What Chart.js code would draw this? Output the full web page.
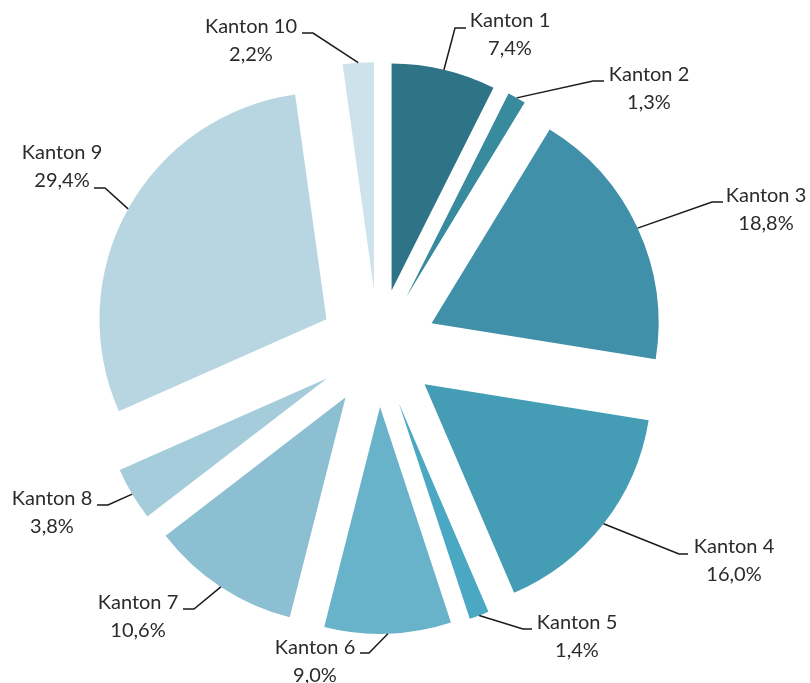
<!DOCTYPE html>
<html>
<head>
<meta charset="utf-8">
<script src="https://cdn.jsdelivr.net/npm/chart.js@4"></script>
<style>
  html, body { margin: 0; padding: 0; background: #fff; }
  #wrap { width: 810px; height: 683px; position: relative; }
</style>
</head>
<body>
<div id="wrap"><canvas id="kantonChart"></canvas></div>
<script>
const kantone = ['Kanton 1', 'Kanton 2', 'Kanton 3', 'Kanton 4', 'Kanton 5',
                 'Kanton 6', 'Kanton 7', 'Kanton 8', 'Kanton 9', 'Kanton 10'];
const anteile = [7.4, 1.3, 18.8, 16.0, 1.4, 9.0, 10.6, 3.8, 29.4, 2.2];

const farben = ['#2e7386', '#388a9d', '#3f90a8', '#449db5', '#4aa8c3',
                '#68b2ca', '#8bbfd1', '#a5ccdb', '#b8d6e1', '#cde2ea'];

// label boxes: text centre x, first line y, leader start (next to text), elbow x
const labelPos = [
    {x: 510, y: 21,  sx: 466, sy: 28,  ex: 455},
    {x: 649, y: 75,  sx: 604, sy: 81,  ex: 593},
    {x: 766, y: 196, sx: 723, sy: 202, ex: 712},
    {x: 734, y: 547, sx: 688, sy: 554, ex: 679},
    {x: 577, y: 623, sx: 532, sy: 629, ex: 523},
    {x: 315, y: 648, sx: 360, sy: 653, ex: 369},
    {x: 138, y: 603, sx: 183, sy: 609, ex: 194},
    {x: 52,  y: 499, sx: 97,  sy: 505, ex: 108},
    {x: 62,  y: 153, sx: 94,  sy: 188, ex: 105},
    {x: 251, y: 27,  sx: 302, sy: 33,  ex: 313},
];

const EXPLODE = 59;

// push every slice outwards along its middle angle
const explodePlugin = {
    id: 'explode',
    afterUpdate(chart) {
        chart.getDatasetMeta(0).data.forEach(arc => {
            const mid = (arc.startAngle + arc.endAngle) / 2;
            arc.x += EXPLODE * Math.cos(mid);
            arc.y += EXPLODE * Math.sin(mid);
        });
    }
};

const labelPlugin = {
    id: 'sliceLabels',
    afterDatasetsDraw(chart) {
        const ctx = chart.ctx;
        const arcs = chart.getDatasetMeta(0).data;
        ctx.save();
        arcs.forEach((arc, i) => {
            const p = labelPos[i];
            const mid = (arc.startAngle + arc.endAngle) / 2;
            const tx = arc.x + arc.outerRadius * Math.cos(mid);
            const ty = arc.y + arc.outerRadius * Math.sin(mid);

            ctx.strokeStyle = '#1a1a1a';
            ctx.lineWidth = 1.5;
            ctx.beginPath();
            ctx.moveTo(p.sx, p.sy);
            ctx.lineTo(p.ex, p.sy);
            ctx.lineTo(tx, ty);
            ctx.stroke();

            ctx.fillStyle = '#2b2b2b';
            ctx.font = '20px Lato';
            ctx.textAlign = 'center';
            ctx.textBaseline = 'middle';
            ctx.fillText(kantone[i], p.x, p.y);
            ctx.fillText(anteile[i].toFixed(1).replace('.', ',') + '%', p.x, p.y + 28);
        });
        ctx.restore();
    }
};

new Chart(document.getElementById('kantonChart'), {
    type: 'pie',
    data: {
        labels: kantone,
        datasets: [{
            data: anteile,
            backgroundColor: farben,
            borderWidth: 0,
        }],
    },
    options: {
        responsive: true,
        maintainAspectRatio: false,
        animation: false,
        events: [],
        radius: 227,
        layout: {
            padding: {left: 0, right: 54, top: 13, bottom: 0},
        },
        plugins: {
            legend: {display: false},
            tooltip: {enabled: false},
        },
    },
    plugins: [explodePlugin, labelPlugin],
});
</script>
</body>
</html>
